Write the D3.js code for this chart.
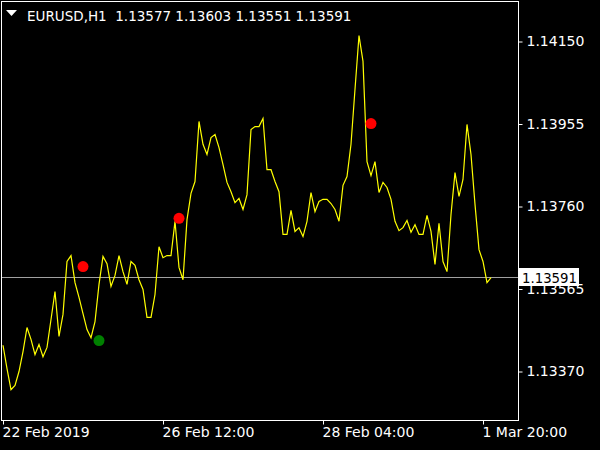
<!DOCTYPE html>
<html><head><meta charset="utf-8">
<script src="https://cdn.jsdelivr.net/npm/d3@7"></script>
<style>
html,body{margin:0;padding:0;background:#000;}
svg{display:block;}
text{font-family:"DejaVu Sans",sans-serif;}
</style></head>
<body>
<svg id="c" width="600" height="450"></svg>
<script>
const symbolTitle = "EURUSD,H1";
const ohlc = ["1.13577","1.13603","1.13551","1.13591"];
const currentPrice = 1.13591;
const closes = [
1.13432,1.13377,1.13327,1.13337,1.13370,1.13417,1.13474,1.13446,1.13410,1.13434,
1.13405,1.13427,1.13493,1.13559,1.13453,1.13505,1.13630,1.13644,1.13580,1.13545,
1.13507,1.13469,1.13450,1.13488,1.13576,1.13642,1.13625,1.13571,1.13597,1.13644,
1.13606,1.13576,1.13630,1.13621,1.13587,1.13564,1.13498,1.13498,1.13552,1.13665,
1.13639,1.13644,1.13644,1.13725,1.13616,1.13587,1.13729,1.13791,1.13819,1.13961,
1.13907,1.13883,1.13923,1.13930,1.13899,1.13859,1.13817,1.13795,1.13769,1.13779,
1.13753,1.13788,1.13942,1.13949,1.13949,1.13968,1.13847,1.13847,1.13819,1.13795,
1.13694,1.13694,1.13751,1.13701,1.13710,1.13689,1.13725,1.13793,1.13748,1.13772,
1.13777,1.13777,1.13767,1.13753,1.13725,1.13810,1.13831,1.13907,1.14037,1.14164,
1.14103,1.13866,1.13833,1.13866,1.13793,1.13817,1.13805,1.13777,1.13725,1.13703,
1.13710,1.13727,1.13699,1.13717,1.13694,1.13694,1.13739,1.13701,1.13623,1.13720,
1.13630,1.13606,1.13741,1.13840,1.13784,1.13824,1.13954,1.13883,1.13765,1.13658,
1.13630,1.13580,1.13592
];
const signalIndex = [20, 24, 44, 92];
const signalPrice = [1.13618, 1.13443, 1.13732, 1.13956];
const signalType  = ["sell", "buy", "sell", "sell"];
const yTickValues = [1.14150, 1.13955, 1.13760, 1.13565, 1.13370];
const xTickIndex = [0, 40, 80, 120];
const xTickLabels = ["22 Feb 2019", "26 Feb 12:00", "28 Feb 04:00", "1 Mar 20:00"];

const svg = d3.select("#c");
const frame = {l:1.5, t:1.5, r:518.5, b:420.5};

const x = d3.scaleLinear().domain([0, closes.length-1]).range([3, 491]);
const y = d3.scaleLinear().domain([1.13370, 1.14150]).range([371.5, 41.5]);

// current price line
const cp = Math.round(y(currentPrice)) - 1;
svg.append("line")
  .attr("x1", frame.l).attr("x2", frame.r)
  .attr("y1", cp+0.5).attr("y2", cp+0.5)
  .attr("stroke", "#a0a0a0").attr("stroke-width", 1);

// price line
svg.append("path")
  .datum(closes)
  .attr("fill", "none")
  .attr("stroke", "#ffff00")
  .attr("stroke-width", 1.2)
  .attr("d", d3.line().x((d,i)=>x(i)).y(d=>y(d)));

// signals
svg.selectAll("circle.sig").data(signalIndex).join("circle")
  .attr("class","sig")
  .attr("cx", (d)=>x(d))
  .attr("cy", (d,i)=>y(signalPrice[i]))
  .attr("r", 5.5)
  .attr("fill", (d,i)=> signalType[i]==="sell" ? "#ff0000" : "#008000");

// frame
svg.append("rect")
  .attr("x", frame.l).attr("y", frame.t)
  .attr("width", frame.r-frame.l).attr("height", frame.b-frame.t)
  .attr("fill","none").attr("stroke","#fff").attr("stroke-width",1);

// right axis
const ya = svg.append("g").attr("transform", `translate(${frame.r},0)`)
  .call(d3.axisRight(y).tickValues(yTickValues).tickSize(4).tickPadding(4)
        .tickFormat(d3.format(".5f")));
ya.select(".domain").remove();
ya.selectAll("line").attr("stroke","#fff");
ya.selectAll("text").attr("fill","#fff").style("font-size","14px")
  .style("font-family","DejaVu Sans, sans-serif");

// bottom axis
const xa = svg.append("g").attr("transform", `translate(0,${frame.b})`)
  .call(d3.axisBottom(x).tickValues(xTickIndex).tickSize(4).tickPadding(3)
        .tickFormat((d,i)=>xTickLabels[i]));
xa.select(".domain").remove();
xa.selectAll("line").attr("stroke","#fff");
xa.selectAll("text").attr("fill","#fff").attr("text-anchor","start")
  .attr("dx", -1)
  .style("font-size","14px").style("font-family","DejaVu Sans, sans-serif");

// current price label
svg.append("rect").attr("x", 519).attr("y", cp-9).attr("width", 60).attr("height", 18)
  .attr("fill","#fff");
svg.append("text").attr("x", 522).attr("y", cp+1).attr("dy","0.35em")
  .attr("fill","#000").style("font-size","13.3px").text(d3.format(".5f")(currentPrice));

// header
svg.append("path").attr("d","M6,10 L17,10 L11.5,16 Z").attr("fill","#fff");
svg.append("text").attr("x", 27).attr("y", 21).attr("fill","#fff")
  .style("font-size","13.5px")
  .attr("xml:space","preserve")
  .text(symbolTitle + "  " + ohlc.join(" "));
</script>
</body></html>
